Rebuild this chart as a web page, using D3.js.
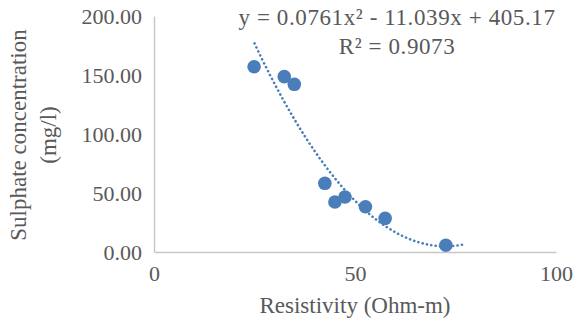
<!DOCTYPE html>
<html><head><meta charset="utf-8">
<script src="https://cdn.jsdelivr.net/npm/d3@7"></script>
<style>body{margin:0;background:#fff;}svg{display:block;}</style>
</head><body>
<svg id="c" width="578" height="324"></svg>
<script>
const resistivity = [24.9, 32.4, 34.9, 42.5, 45.0, 47.5, 52.6, 57.5, 72.6];
const sulphate = [157.0, 148.6, 142.1, 58.2, 42.4, 46.6, 38.4, 28.5, 5.7];
const trendCoef = [0.0761, -11.039, 405.17];
const trendRange = [25, 77];
const xTicks = [0, 50, 100];
const yTicks = [0, 50, 100, 150, 200];
const equationText = "y = 0.0761x² - 11.039x + 405.17";
const r2Text = "R² = 0.9073";
const xTitle = "Resistivity (Ohm-m)";
const yTitleLines = ["Sulphate concentration", "(mg/l)"];

const svg = d3.select("#c");
const font = "'Liberation Serif', 'Times New Roman', serif";
const x = d3.scaleLinear().domain([0, 100]).range([154, 556]);
const y = d3.scaleLinear().domain([0, 200]).range([252, 16]);
const col = "#4a7ebb", grey = "#595959";

// axes
const xa = svg.append("g").attr("transform", "translate(0,252)")
  .call(d3.axisBottom(x).tickValues(xTicks).tickSize(0).tickPadding(12).tickFormat(d3.format("d")));
const ya = svg.append("g").attr("transform", "translate(154,0)")
  .call(d3.axisLeft(y).tickValues(yTicks).tickSize(0).tickPadding(12).tickFormat(d3.format(".2f")));
[xa, ya].forEach(a => {
  a.select(".domain").attr("stroke", "#c8c8c8").attr("stroke-width", 1.5);
  a.selectAll("text").attr("font-family", font).attr("font-size", 22).attr("fill", grey);
});
xa.selectAll("text").attr("dy", null).attr("y", 29);

// trendline
const tx = d3.range(trendRange[0], trendRange[1] + 0.01, 0.25);
const line = d3.line().x(d => x(d)).y(d => y(trendCoef[0]*d*d + trendCoef[1]*d + trendCoef[2]));
svg.append("path").datum(tx).attr("d", line).attr("fill", "none")
  .attr("stroke", col).attr("stroke-width", 2.6).attr("stroke-linecap", "round")
  .attr("stroke-dasharray", "0.1 4.3");

// points
svg.append("g").selectAll("circle").data(resistivity).join("circle")
  .attr("cx", d => x(d)).attr("cy", (d, i) => y(sulphate[i])).attr("r", 6.8).attr("fill", col);

// equation
svg.append("text").attr("x", 397).attr("y", 25).attr("text-anchor", "middle")
  .attr("font-family", font).attr("font-size", 23).attr("letter-spacing", 0.6).attr("fill", grey).text(equationText);
svg.append("text").attr("x", 397).attr("y", 54).attr("text-anchor", "middle")
  .attr("font-family", font).attr("font-size", 23).attr("letter-spacing", 0.6).attr("fill", grey).text(r2Text);

// axis titles
svg.append("text").attr("x", 355).attr("y", 313).attr("text-anchor", "middle")
  .attr("font-family", font).attr("font-size", 23).attr("fill", grey).text(xTitle);
const yt = svg.append("text").attr("transform", "translate(0,135) rotate(-90)")
  .attr("text-anchor", "middle").attr("font-family", font).attr("font-size", 23).attr("fill", grey);
yt.append("tspan").attr("x", 0).attr("y", 26).text(yTitleLines[0]);
yt.append("tspan").attr("x", 0).attr("y", 56).text(yTitleLines[1]);
</script>
</body></html>
